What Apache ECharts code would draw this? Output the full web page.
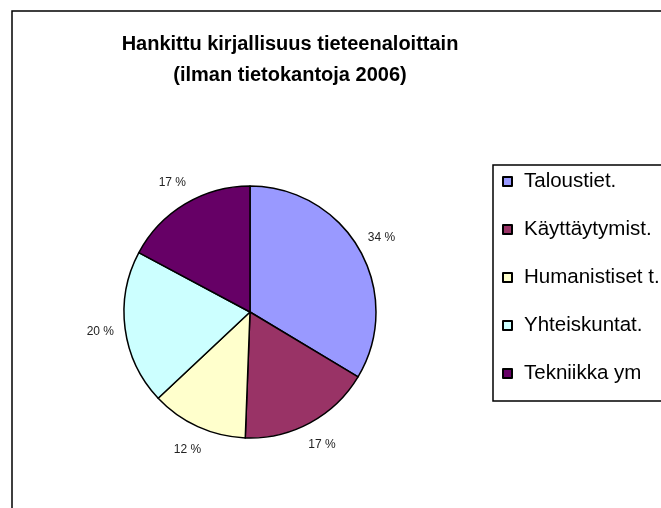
<!DOCTYPE html>
<html>
<head>
<meta charset="utf-8">
<script src="https://cdn.jsdelivr.net/npm/echarts@6/dist/echarts.min.js"></script>
<style>
  html, body { margin: 0; padding: 0; background: #fff; }
  #pieChart { width: 661px; height: 508px; }
</style>
</head>
<body>
<div id="pieChart"></div>
<script>
// aloittain hankittu kirjallisuus, osuudet %
const categories = ['Taloustiet.', 'Käyttäytymist.', 'Humanistiset t.', 'Yhteiskuntat.', 'Tekniikka ym'];
const shares = [33.6, 17.0, 12.4, 19.8, 17.2];
const sliceColors = ['#9999FF', '#993366', '#FFFFCC', '#CCFFFF', '#660066'];

const FONT = '"Liberation Sans", Arial, sans-serif';

const pieData = categories.map((name, i) => ({
  name: name,
  value: shares[i],
  itemStyle: { color: sliceColors[i] }
}));

let chart = echarts.init(document.getElementById('pieChart'));
chart.setOption({
  animation: false,
  title: {
    text: 'Hankittu kirjallisuus tieteenaloittain\n(ilman tietokantoja 2006)',
    left: 290,
    top: 29,
    padding: 0,
    textAlign: 'center',
    textStyle: {
      fontFamily: FONT,
      fontSize: 20,
      fontWeight: 'bold',
      color: '#000',
      lineHeight: 31
    }
  },
  // kaavion kehys
  graphic: [{
    type: 'rect',
    shape: { x: 12, y: 11, width: 800, height: 700 },
    style: { fill: 'none', stroke: '#000', lineWidth: 1.5 },
    silent: true
  }],
  legend: {
    orient: 'vertical',
    left: 493,
    top: 165,
    padding: [6, 200, 17, 9],
    borderColor: '#000',
    borderWidth: 1.5,
    icon: 'rect',
    itemWidth: 9,
    itemHeight: 9,
    itemGap: 27,
    data: categories,
    textStyle: {
      fontFamily: FONT,
      fontSize: 20.5,
      color: '#000',
      padding: [0, 0, 0, 7]
    }
  },
  series: [
    {
      type: 'pie',
      center: [250, 312],
      radius: 126,
      startAngle: 90,
      clockwise: true,
      data: pieData,
      itemStyle: { borderColor: '#000', borderWidth: 1.5 },
      label: { show: false },
      labelLine: { show: false },
      emphasis: { disabled: true }
    },
    {
      // prosenttitekstit renkaana kakun ulkopuolella
      type: 'pie',
      center: [250, 312],
      radius: [140, 156],
      startAngle: 90,
      clockwise: true,
      silent: true,
      data: pieData.map(d => ({ name: d.name, value: d.value })),
      itemStyle: { color: 'transparent', borderWidth: 0 },
      label: {
        show: true,
        position: 'inside',
        formatter: p => Math.round(p.value) + ' %',
        fontFamily: FONT,
        fontSize: 12,
        color: '#222'
      },
      labelLine: { show: false },
      emphasis: { disabled: true }
    }
  ]
})
</script>
</body>
</html>
